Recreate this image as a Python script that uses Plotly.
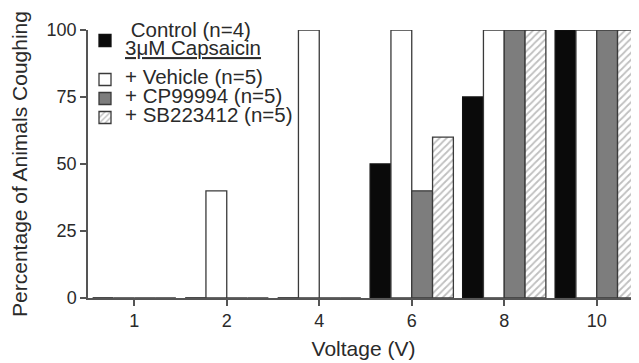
import plotly.graph_objects as go

voltages = ["1", "2", "4", "6", "8", "10"]
control = [0, 0, 0, 50, 75, 100]
vehicle = [0, 40, 100, 100, 100, 100]
cp99994 = [0, 0, 0, 40, 100, 100]
sb223412 = [0, 0, 0, 60, 100, 100]

names = ["Control (n=4)", "+ Vehicle (n=5)", "+ CP99994 (n=5)", "+ SB223412 (n=5)"]
header = "3μM Capsaicin"

FONT = "Liberation Sans, Arial, sans-serif"
TXT = "#2a2a2a"
AX = "#555555"
OUT = "#3a3a3a"

def lab(s):
    return '<span style="font-size:20.5px">' + s + '</span>'

fig = go.Figure()
fig.add_trace(go.Bar(x=voltages, y=control,
                     name=lab("\u00a0" + names[0]) + "<br>" + lab("<u>" + header + "</u>"),
                     legend="legend2",
                     marker=dict(color="#0a0a0a", line=dict(color="#111111", width=1.3))))
fig.add_trace(go.Bar(x=voltages, y=vehicle, name=lab(names[1]),
                     marker=dict(color="white", line=dict(color=OUT, width=1.3))))
fig.add_trace(go.Bar(x=voltages, y=cp99994, name=lab(names[2]),
                     marker=dict(color="#7d7d7d", line=dict(color=OUT, width=1.3))))
fig.add_trace(go.Bar(x=voltages, y=sb223412, name=lab(names[3]),
                     marker=dict(color="white", line=dict(color=OUT, width=1.3),
                                 pattern=dict(shape="/", fgcolor="#808080", bgcolor="white",
                                              size=5, solidity=0.35))))

# the page body adds an 8px offset; the figure is sized for the visible area
W, H = 631, 355
L, R, T, B = 80, 0, 22, 65
pw = W - L - R
ph = H - T - B

def px(x):
    return (x - L) / pw

def py(y):
    return (H - B - y) / ph

fig.update_layout(
    width=W, height=H,
    margin=dict(l=L, r=R, t=T, b=B),
    paper_bgcolor="white", plot_bgcolor="white",
    barmode="group", bargap=0.1, bargroupgap=0,
    font=dict(family=FONT, size=18, color=TXT),
    showlegend=True,
    legend=dict(x=px(77), y=py(57), xanchor="left", yanchor="top",
                font=dict(family=FONT, size=12, color=TXT),
                bgcolor="rgba(0,0,0,0)", itemclick=False, itemdoubleclick=False),
    legend2=dict(x=px(77), y=py(7.8), xanchor="left", yanchor="top",
                 font=dict(family=FONT, size=14, color=TXT),
                 bgcolor="rgba(0,0,0,0)", itemclick=False, itemdoubleclick=False),
)
fig.update_xaxes(type="category", range=[-0.5, -0.5 + pw / 92.5],
                 showline=True, linecolor=AX, linewidth=1.5,
                 ticks="outside", ticklen=6, tickcolor=AX, tickwidth=1.5,
                 tickfont=dict(size=18, color=TXT),
                 title=dict(text="Voltage (V)", font=dict(size=21, color=TXT), standoff=11),
                 showgrid=False, zeroline=False)
fig.update_yaxes(range=[0, 100], tickvals=[0, 25, 50, 75, 100],
                 showline=True, linecolor=AX, linewidth=1.5,
                 ticks="outside", ticklen=6, tickcolor=AX, tickwidth=1.5,
                 tickfont=dict(size=18, color=TXT),
                 title=dict(text="Percentage of Animals Coughing", font=dict(size=21, color=TXT), standoff=18),
                 showgrid=False, zeroline=False)
for tr in fig.data:
    tr.cliponaxis = False

fig.write_html("out.html")
